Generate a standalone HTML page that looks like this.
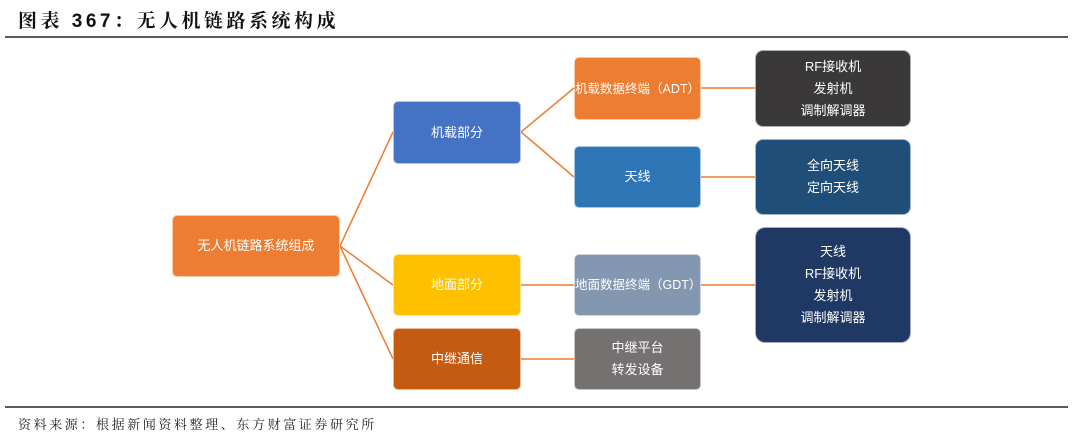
<!DOCTYPE html>
<html><head><meta charset="utf-8"><style>
body{margin:0;width:1080px;height:440px;background:#fff;position:relative;overflow:hidden;font-family:"Liberation Sans","Noto Sans CJK SC",sans-serif;}
.t{position:absolute;left:18px;top:6px;font-size:19px;font-weight:bold;color:#111;font-family:"Liberation Sans","Noto Serif CJK SC",serif;letter-spacing:3.5px}
.hl{position:absolute;left:5px;width:1063px;height:2px;background:#5a5a5a}
.b{position:absolute;display:flex;align-items:center;justify-content:center;text-align:center;color:#fff;font-size:13px;line-height:22px;border-radius:5px;box-sizing:border-box;border:1px solid rgba(255,255,255,.6)}
.f{position:absolute;left:18px;top:414px;font-size:13px;color:#222;font-family:"Liberation Serif","Noto Serif CJK SC",serif;letter-spacing:2.6px}
</style></head><body>
<div class="t">图表 367：无人机链路系统构成</div>
<div class="hl" style="top:36px"></div>
<div class="hl" style="top:406px"></div>
<svg style="position:absolute;left:0;top:0" width="1080" height="440">
<g stroke="#ED7D31" stroke-width="1.5" fill="none">
<polyline points="393,132 340,246 393,359"/>
<line x1="340" y1="246" x2="393" y2="285"/>
<polyline points="574,88 521,132 574,177"/>
<line x1="701" y1="88" x2="755" y2="88"/>
<line x1="701" y1="177" x2="755" y2="177"/>
<line x1="521" y1="285" x2="574" y2="285"/>
<line x1="701" y1="285" x2="755" y2="285"/>
<line x1="521" y1="359" x2="574" y2="359"/>
</g></svg>
<div class="b" style="left:172px;top:215px;width:168px;height:62px;background:#ED7D31">无人机链路系统组成</div>
<div class="b" style="left:393px;top:101px;width:128px;height:63px;background:#4472C4">机载部分</div>
<div class="b" style="left:393px;top:254px;width:128px;height:62px;background:#FFC000">地面部分</div>
<div class="b" style="left:393px;top:328px;width:128px;height:62px;background:#C55A11">中继通信</div>
<div class="b" style="left:574px;top:57px;width:127px;height:63px;background:#ED7D31;font-size:12.5px">机载数据终端（ADT）</div>
<div class="b" style="left:574px;top:146px;width:127px;height:62px;background:#2E75B6">天线</div>
<div class="b" style="left:574px;top:254px;width:127px;height:62px;background:#8497B0;font-size:12.5px">地面数据终端（GDT）</div>
<div class="b" style="left:574px;top:328px;width:127px;height:62px;background:#767171">中继平台<br>转发设备</div>
<div class="b" style="left:755px;top:50px;width:156px;height:77px;background:#3A3838;border-radius:8px">RF接收机<br>发射机<br>调制解调器</div>
<div class="b" style="left:755px;top:139px;width:156px;height:76px;background:#1F4E79;border-radius:8px">全向天线<br>定向天线</div>
<div class="b" style="left:755px;top:227px;width:156px;height:116px;background:#203864;border-radius:10px">天线<br>RF接收机<br>发射机<br>调制解调器</div>
<div class="f">资料来源：根据新闻资料整理、东方财富证券研究所</div>
</body></html>
